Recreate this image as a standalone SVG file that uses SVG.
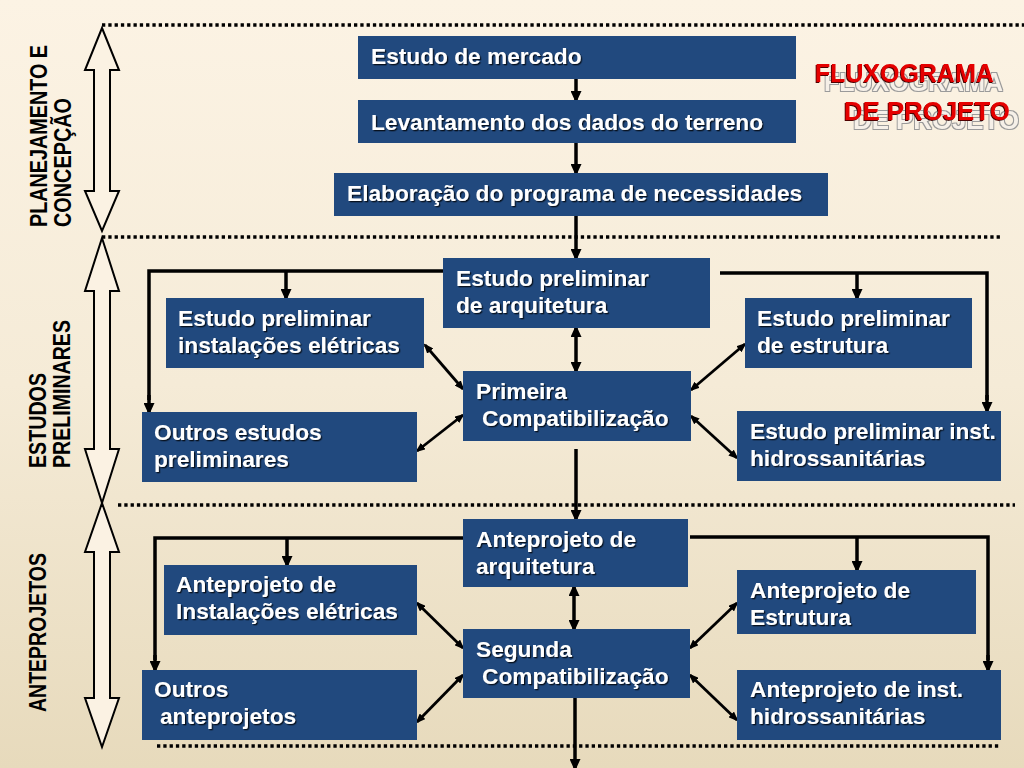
<svg xmlns="http://www.w3.org/2000/svg" width="1024" height="768" viewBox="0 0 1024 768">
<defs>
<linearGradient id="bg" x1="0" y1="0" x2="0" y2="1">
<stop offset="0" stop-color="#FCF3E4"/>
<stop offset="0.5" stop-color="#F5EBD7"/>
<stop offset="1" stop-color="#E7DABC"/>
</linearGradient>
<filter id="sh" x="-5%" y="-20%" width="110%" height="140%">
<feDropShadow dx="1.3" dy="1.3" stdDeviation="0.6" flood-color="#000" flood-opacity="0.75"/>
</filter>
<filter id="ghost" x="-5%" y="-30%" width="120%" height="180%">
<feOffset in="SourceAlpha" dx="9" dy="9" result="off"/>
<feMorphology in="off" operator="dilate" radius="1" result="dil"/>
<feFlood flood-color="#9A9A9A" result="grey"/>
<feComposite in="grey" in2="dil" operator="in" result="outline"/>
<feFlood flood-color="#F6F0E8" result="light"/>
<feComposite in="light" in2="off" operator="in" result="fillg"/>
<feOffset in="SourceAlpha" dx="-1" dy="1" result="dk0"/>
<feFlood flood-color="#500000" result="dkc"/>
<feComposite in="dkc" in2="dk0" operator="in" result="dark"/>
<feMerge>
<feMergeNode in="outline"/>
<feMergeNode in="fillg"/>
<feMergeNode in="dark"/>
<feMergeNode in="SourceGraphic"/>
</feMerge>
</filter>
<marker id="ah" viewBox="0 0 12 11" refX="9" refY="5.5" markerWidth="12" markerHeight="11" markerUnits="userSpaceOnUse" orient="auto-start-reverse">
<path d="M0,0 L12,5.5 L0,11 z" fill="#000"/>
</marker>
<marker id="as" viewBox="0 0 10 8" refX="8" refY="4" markerWidth="10" markerHeight="8" markerUnits="userSpaceOnUse" orient="auto-start-reverse">
<path d="M0,0 L10,4 L0,8 z" fill="#000"/>
</marker>
</defs>
<style>
.box{fill:#21497E;}
.t{font-family:"Liberation Sans",Arial,sans-serif;font-weight:bold;font-size:22.7px;fill:#FFFFFF;filter:url(#sh);}
.lbl{font-family:"Liberation Sans",Arial,sans-serif;font-weight:bold;font-size:24px;fill:#000;}
.dot{stroke:#000;stroke-width:3.3;stroke-dasharray:3.3 3;fill:none;}
.big{fill:#FBF2E3;stroke:#000;stroke-width:2;stroke-linejoin:miter;}
.c{stroke:#000;stroke-width:3.5;fill:none;}
.v{stroke:#000;stroke-width:3.5;fill:none;marker-end:url(#ah);}
.vv{stroke:#000;stroke-width:3.5;fill:none;marker-start:url(#ah);marker-end:url(#ah);}
.d{stroke:#000;stroke-width:2.8;fill:none;marker-start:url(#as);marker-end:url(#as);}
.title{font-family:"Liberation Sans",Arial,sans-serif;font-weight:bold;font-size:25px;fill:#E50000;filter:url(#ghost);}
</style>
<rect x="0" y="0" width="1024" height="768" fill="url(#bg)"/>

<g id="separators">
<line class="dot" x1="102" y1="25" x2="1024" y2="25"/>
<line class="dot" x1="102" y1="237" x2="1000" y2="237"/>
<line class="dot" x1="118" y1="505" x2="1015" y2="505"/>
<line class="dot" x1="157" y1="746" x2="1000" y2="746"/>
</g>

<g id="phase-arrows">
<polygon class="big" points="102,28 119,70 110,70 110,191 119,191 102,231 85,191 94,191 94,70 85,70"/>
<polygon class="big" points="102,238 119,291 110,291 110,449 119,449 102,503 85,449 94,449 94,291 85,291"/>
<polygon class="big" points="102,503 119,552 110,552 110,698 119,698 102,747 85,698 94,698 94,552 85,552"/>
</g>

<g id="phase-labels">
<text class="lbl" transform="translate(47,227) rotate(-90)" textLength="182" lengthAdjust="spacingAndGlyphs">PLANEJAMENTO E</text>
<text class="lbl" transform="translate(70.5,227) rotate(-90)" textLength="129" lengthAdjust="spacingAndGlyphs">CONCEPÇÃO</text>
<text class="lbl" transform="translate(46,468) rotate(-90)" textLength="95" lengthAdjust="spacingAndGlyphs">ESTUDOS</text>
<text class="lbl" transform="translate(70,468) rotate(-90)" textLength="148" lengthAdjust="spacingAndGlyphs">PRELIMINARES</text>
<text class="lbl" transform="translate(46,712) rotate(-90)" textLength="159" lengthAdjust="spacingAndGlyphs">ANTEPROJETOS</text>
</g>

<g id="connectors">
<line class="v" x1="576" y1="79" x2="576" y2="100"/>
<line class="v" x1="576" y1="143" x2="576" y2="173"/>
<line class="v" x1="576" y1="216" x2="576" y2="258"/>
<polyline class="c" points="443,271 149,271 149,400"/>
<line class="v" x1="149" y1="395" x2="149" y2="412"/>
<line class="v" x1="286" y1="271" x2="286" y2="298"/>
<polyline class="c" points="720,273 987,273 987,400"/>
<line class="v" x1="987" y1="395" x2="987" y2="411"/>
<line class="v" x1="857" y1="273" x2="857" y2="298"/>
<line class="vv" x1="576" y1="328" x2="576" y2="371"/>
<line class="d" x1="425" y1="345" x2="463" y2="389"/>
<line class="d" x1="417" y1="451" x2="463" y2="415"/>
<line class="d" x1="745" y1="344" x2="691" y2="390"/>
<line class="d" x1="737" y1="458" x2="691" y2="416"/>
<line class="v" x1="576" y1="449" x2="576" y2="519"/>

<polyline class="c" points="463,538 155,538 155,660"/>
<line class="v" x1="155" y1="655" x2="155" y2="670"/>
<line class="v" x1="287" y1="538" x2="287" y2="565"/>
<polyline class="c" points="690,537 988,537 988,660"/>
<line class="v" x1="988" y1="655" x2="988" y2="670"/>
<line class="v" x1="857" y1="537" x2="857" y2="570"/>
<line class="vv" x1="574" y1="587" x2="574" y2="629"/>
<line class="d" x1="417" y1="603" x2="463" y2="648"/>
<line class="d" x1="417" y1="722" x2="463" y2="675"/>
<line class="d" x1="737" y1="603" x2="690" y2="648"/>
<line class="d" x1="737" y1="720" x2="690" y2="675"/>
<line class="v" x1="575" y1="698" x2="575" y2="768"/>
</g>

<g id="n-mercado"><rect class="box" x="358" y="36" width="438" height="43"/><text class="t" x="371" y="64">Estudo de mercado</text></g>
<g id="n-terreno"><rect class="box" x="358" y="100" width="438" height="43"/><text class="t" x="371" y="130">Levantamento dos dados do terreno</text></g>
<g id="n-programa"><rect class="box" x="334" y="173" width="494" height="43"/><text class="t" x="347" y="201">Elaboração do programa de necessidades</text></g>

<g id="n-ep-arq"><rect class="box" x="443" y="258" width="267" height="70"/><text class="t" x="456" y="286">Estudo preliminar</text><text class="t" x="456" y="313">de arquitetura</text></g>
<g id="n-ep-ele"><rect class="box" x="166" y="298" width="258" height="70"/><text class="t" x="178" y="326">Estudo preliminar</text><text class="t" x="178" y="353">instalações elétricas</text></g>
<g id="n-ep-est"><rect class="box" x="745" y="298" width="227" height="70"/><text class="t" x="757" y="326">Estudo preliminar</text><text class="t" x="757" y="353">de estrutura</text></g>
<g id="n-primeira"><rect class="box" x="463" y="371" width="228" height="70"/><text class="t" x="476" y="399">Primeira</text><text class="t" x="482" y="426">Compatibilização</text></g>
<g id="n-ep-outros"><rect class="box" x="142" y="412" width="275" height="70"/><text class="t" x="154" y="440">Outros estudos</text><text class="t" x="154" y="467">preliminares</text></g>
<g id="n-ep-hid"><rect class="box" x="737" y="411" width="264" height="70"/><text class="t" x="750" y="439">Estudo preliminar inst.</text><text class="t" x="750" y="466">hidrossanitárias</text></g>

<g id="n-ap-arq"><rect class="box" x="463" y="519" width="225" height="68"/><text class="t" x="476" y="547">Anteprojeto de</text><text class="t" x="476" y="574">arquitetura</text></g>
<g id="n-ap-ele"><rect class="box" x="164" y="565" width="253" height="70"/><text class="t" x="176" y="592">Anteprojeto de</text><text class="t" x="176" y="619">Instalações elétricas</text></g>
<g id="n-ap-est"><rect class="box" x="737" y="570" width="239" height="64"/><text class="t" x="750" y="598">Anteprojeto de</text><text class="t" x="750" y="625">Estrutura</text></g>
<g id="n-segunda"><rect class="box" x="463" y="629" width="227" height="69"/><text class="t" x="476" y="657">Segunda</text><text class="t" x="482" y="684">Compatibilização</text></g>
<g id="n-ap-outros"><rect class="box" x="142" y="670" width="275" height="70"/><text class="t" x="154" y="697">Outros</text><text class="t" x="160" y="724">anteprojetos</text></g>
<g id="n-ap-hid"><rect class="box" x="737" y="670" width="264" height="70"/><text class="t" x="750" y="697">Anteprojeto de inst.</text><text class="t" x="750" y="724">hidrossanitárias</text></g>

<g id="title">
<text class="title" x="815" y="82" textLength="179" lengthAdjust="spacingAndGlyphs">FLUXOGRAMA</text>
<text class="title" x="844" y="120" textLength="166" lengthAdjust="spacingAndGlyphs">DE PROJETO</text>
</g>
</svg>
